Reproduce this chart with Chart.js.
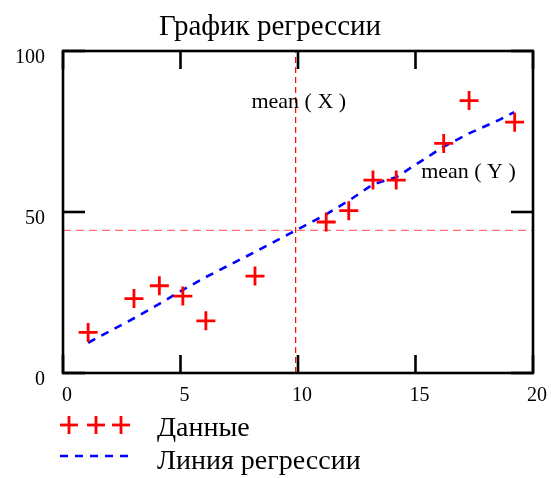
<!DOCTYPE html>
<html>
<head>
<meta charset="utf-8">
<script src="https://cdn.jsdelivr.net/npm/chart.js@4.4.0/dist/chart.umd.min.js"></script>
<style>
  body { margin: 0; background: #fff; }
</style>
</head>
<body>
<canvas id="regChart" width="551" height="478"></canvas>
<script>
// values
const dataX = [1.07, 3.02, 4.1, 5.1, 6.08, 8.17, 11.2, 12.16, 13.19, 14.18, 16.2, 17.28, 19.22];
const dataY = [12.6, 23.1, 27.1, 23.9, 16.2, 30.1, 46.9, 50.4, 59.9, 59.9, 71.3, 84.6, 77.9];
const lineX = [1.07, 3.02, 4.1, 5.1, 6.08, 8.17, 11.2, 12.16, 13.19, 14.18, 16.2, 17.28, 18.5, 19.2];
const lineY = [9.4, 17, 21.5, 25.8, 29.8, 37.6, 49.3, 53.5, 58.6, 60.8, 70.3, 74.4, 78.4, 81];
const meanX = 9.9;
const meanY = 44.3;
const xTicks = [0, 5, 10, 15, 20];
const yTicks = [0, 50, 100];
const chartTitle = "График регрессии";
const legendLabels = ["Данные", "Линия регрессии"];

const serif = '"Liberation Serif", "Times New Roman", serif';

function seg(ctx, x1, y1, x2, y2) {
  ctx.beginPath();
  ctx.moveTo(x1, y1);
  ctx.lineTo(x2, y2);
  ctx.stroke();
}

const mathcadFrame = {
  id: "mathcadFrame",
  afterDraw(chart) {
    const { ctx, chartArea: a, scales: { x, y } } = chart;
    ctx.save();

    // box + inward ticks
    ctx.strokeStyle = "#000";
    ctx.lineWidth = 2.6;
    ctx.strokeRect(a.left, a.top, a.right - a.left, a.bottom - a.top);
    xTicks.forEach(v => {
      const px = x.getPixelForValue(v);
      seg(ctx, px, a.bottom, px, a.bottom - 18);
      seg(ctx, px, a.top, px, a.top + 18);
    });
    yTicks.forEach(v => {
      const py = y.getPixelForValue(v);
      seg(ctx, a.left, py, a.left + 22, py);
      seg(ctx, a.right, py, a.right - 22, py);
    });

    // tick labels
    ctx.fillStyle = "#000";
    ctx.font = "20px " + serif;
    ctx.textBaseline = "alphabetic";
    ctx.textAlign = "center";
    xTicks.forEach(v => {
      ctx.fillText(String(v), x.getPixelForValue(v) + 4, a.bottom + 28);
    });
    ctx.textAlign = "right";
    yTicks.forEach(v => {
      ctx.fillText(String(v), 45, y.getPixelForValue(v) + 12);
    });

    // annotations
    ctx.font = "22px " + serif;
    ctx.textAlign = "left";
    ctx.fillText("mean ( X )", x.getPixelForValue(8.02), y.getPixelForValue(82.3));
    ctx.fillText("mean ( Y )", x.getPixelForValue(15.24), y.getPixelForValue(60.6));

    // title
    ctx.font = "29px " + serif;
    ctx.textAlign = "center";
    ctx.fillText(chartTitle, 270, 35);

    // legend
    ctx.font = "28px " + serif;
    ctx.textAlign = "left";
    ctx.fillText(legendLabels[0], 157, 436);
    ctx.fillText(legendLabels[1], 157, 469);

    ctx.strokeStyle = "#ff0000";
    ctx.lineWidth = 2.8;
    [69, 96, 121].forEach(cx => {
      seg(ctx, cx - 9, 425, cx + 9, 425);
      seg(ctx, cx, 416, cx, 434);
    });
    ctx.strokeStyle = "#0000ff";
    ctx.lineWidth = 2.6;
    ctx.setLineDash([8, 7]);
    seg(ctx, 60, 456, 130, 456);
    ctx.restore();
  }
};

new Chart(document.getElementById("regChart"), {
  type: "scatter",
  data: {
    datasets: [
      {
        label: legendLabels[0],
        data: dataX.map((v, i) => ({ x: v, y: dataY[i] })),
        showLine: false,
        pointStyle: "cross",
        pointRadius: 9.5,
        pointBorderWidth: 2.8,
        borderColor: "#ff0000",
        backgroundColor: "#ff0000",
        order: 0,
      },
      {
        label: legendLabels[1],
        data: lineX.map((v, i) => ({ x: v, y: lineY[i] })),
        showLine: true,
        pointRadius: 0,
        borderColor: "#0000ff",
        borderWidth: 2.6,
        borderDash: [8, 7],
        order: 1,
      },
      {
        label: "mean X",
        data: [{ x: meanX, y: 0 }, { x: meanX, y: 100 }],
        showLine: true,
        pointRadius: 0,
        borderColor: "#ff0000",
        borderWidth: 1.2,
        borderDash: [6, 4],
        order: 2,
      },
      {
        label: "mean Y",
        data: [{ x: 0, y: meanY }, { x: 20, y: meanY }],
        showLine: true,
        pointRadius: 0,
        borderColor: "#ff7070",
        borderWidth: 1.4,
        borderDash: [8, 5],
        order: 3,
      },
    ],
  },
  options: {
    responsive: false,
    animation: false,
    layout: { padding: { left: 63, right: 18, top: 51, bottom: 105 } },
    scales: {
      x: { type: "linear", min: 0, max: 20, display: false },
      y: { type: "linear", min: 0, max: 100, display: false },
    },
    plugins: {
      legend: { display: false },
      title: { display: false },
      tooltip: { enabled: false },
    },
  },
  plugins: [mathcadFrame],
});
</script>
</body>
</html>
